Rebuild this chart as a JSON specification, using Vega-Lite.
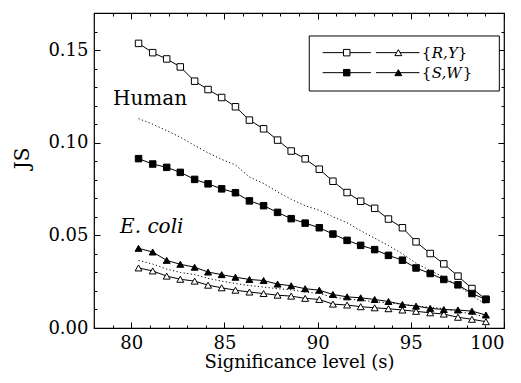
{
  "$schema": "https://vega.github.io/schema/vega-lite/v6.json",
  "width": 410,
  "height": 315,
  "autosize": "none",
  "padding": {"left": 94, "top": 13, "right": 17, "bottom": 55},
  "background": "white",
  "config": {
    "view": {"stroke": "black", "strokeWidth": 1.2},
    "font": "DejaVu Serif",
    "axis": {
      "domain": false, "grid": false,
      "labelFont": "DejaVu Serif", "labelFontSize": 18, "labelColor": "black",
      "tickColor": "black", "tickWidth": 1,
      "titleFont": "DejaVu Serif", "titleFontSize": 18, "titleFontWeight": "normal", "titleColor": "black"
    }
  },
  "datasets": {
    "curves": [
      {"s": 80.39, "hRY": 0.1536, "hSW": 0.0914, "hDot": 0.1130, "eRY": 0.0324, "eSW": 0.0430, "eDot": 0.0365},
      {"s": 81.15, "hRY": 0.1486, "hSW": 0.0885, "hDot": 0.1100, "eRY": 0.0308, "eSW": 0.0410, "eDot": 0.0345},
      {"s": 81.90, "hRY": 0.1452, "hSW": 0.0867, "hDot": 0.1065, "eRY": 0.0280, "eSW": 0.0365, "eDot": 0.0318},
      {"s": 82.63, "hRY": 0.1409, "hSW": 0.0840, "hDot": 0.1030, "eRY": 0.0263, "eSW": 0.0344, "eDot": 0.0300},
      {"s": 83.40, "hRY": 0.1332, "hSW": 0.0802, "hDot": 0.0985, "eRY": 0.0253, "eSW": 0.0328, "eDot": 0.0288},
      {"s": 84.12, "hRY": 0.1287, "hSW": 0.0778, "hDot": 0.0945, "eRY": 0.0231, "eSW": 0.0302, "eDot": 0.0268},
      {"s": 84.85, "hRY": 0.1244, "hSW": 0.0751, "hDot": 0.0910, "eRY": 0.0217, "eSW": 0.0288, "eDot": 0.0253},
      {"s": 85.59, "hRY": 0.1194, "hSW": 0.0730, "hDot": 0.0880, "eRY": 0.0204, "eSW": 0.0274, "eDot": 0.0240},
      {"s": 86.34, "hRY": 0.1122, "hSW": 0.0686, "hDot": 0.0815, "eRY": 0.0194, "eSW": 0.0262, "eDot": 0.0229},
      {"s": 87.10, "hRY": 0.1075, "hSW": 0.0660, "hDot": 0.0780, "eRY": 0.0186, "eSW": 0.0256, "eDot": 0.0221},
      {"s": 87.85, "hRY": 0.1014, "hSW": 0.0624, "hDot": 0.0735, "eRY": 0.0177, "eSW": 0.0237, "eDot": 0.0212},
      {"s": 88.58, "hRY": 0.0955, "hSW": 0.0590, "hDot": 0.0695, "eRY": 0.0172, "eSW": 0.0228, "eDot": 0.0206},
      {"s": 89.33, "hRY": 0.0913, "hSW": 0.0566, "hDot": 0.0660, "eRY": 0.0160, "eSW": 0.0212, "eDot": 0.0194},
      {"s": 90.09, "hRY": 0.0857, "hSW": 0.0541, "hDot": 0.0635, "eRY": 0.0154, "eSW": 0.0204, "eDot": 0.0187},
      {"s": 90.82, "hRY": 0.0792, "hSW": 0.0507, "hDot": 0.0600, "eRY": 0.0129, "eSW": 0.0181, "eDot": 0.0165},
      {"s": 91.58, "hRY": 0.0731, "hSW": 0.0473, "hDot": 0.0568, "eRY": 0.0124, "eSW": 0.0168, "eDot": 0.0158},
      {"s": 92.31, "hRY": 0.0684, "hSW": 0.0446, "hDot": 0.0525, "eRY": 0.0115, "eSW": 0.0163, "eDot": 0.0149},
      {"s": 93.06, "hRY": 0.0646, "hSW": 0.0423, "hDot": 0.0485, "eRY": 0.0109, "eSW": 0.0154, "eDot": 0.0142},
      {"s": 93.80, "hRY": 0.0588, "hSW": 0.0392, "hDot": 0.0445, "eRY": 0.0104, "eSW": 0.0143, "eDot": 0.0136},
      {"s": 94.55, "hRY": 0.0541, "hSW": 0.0366, "hDot": 0.0400, "eRY": 0.0097, "eSW": 0.0127, "eDot": 0.0128},
      {"s": 95.28, "hRY": 0.0465, "hSW": 0.0324, "hDot": 0.0350, "eRY": 0.0090, "eSW": 0.0118, "eDot": 0.0120},
      {"s": 96.04, "hRY": 0.0402, "hSW": 0.0294, "hDot": 0.0310, "eRY": 0.0082, "eSW": 0.0106, "eDot": 0.0112},
      {"s": 96.77, "hRY": 0.0346, "hSW": 0.0262, "hDot": 0.0275, "eRY": 0.0075, "eSW": 0.0100, "eDot": 0.0104},
      {"s": 97.53, "hRY": 0.0280, "hSW": 0.0233, "hDot": 0.0228, "eRY": 0.0058, "eSW": 0.0097, "eDot": 0.0088},
      {"s": 98.28, "hRY": 0.0213, "hSW": 0.0186, "hDot": 0.0175, "eRY": 0.0047, "eSW": 0.0091, "eDot": 0.0076},
      {"s": 99.03, "hRY": 0.0155, "hSW": 0.0154, "hDot": 0.0127, "eRY": 0.0034, "eSW": 0.0070, "eDot": 0.0060}
    ],
    "legendRows": [
      {"key": "R,Y", "ly": 0.1486, "kind": "open"},
      {"key": "S,W", "ly": 0.1378, "kind": "filled"}
    ]
  },
  "resolve": {"axis": {"x": "independent", "y": "independent"}},
  "layer": [
    {
      "data": {"name": "curves"},
      "transform": [
        {"fold": ["hDot", "eDot"], "as": ["series", "v"]}
      ],
      "mark": {"type": "line", "color": "black", "strokeWidth": 1, "strokeDash": [1.2, 2.4]},
      "encoding": {
        "x": {"field": "s", "type": "quantitative",
              "scale": {"domain": [78, 100], "nice": false, "zero": false},
              "axis": {"orient": "bottom", "values": [80, 85, 90, 95, 100], "tickSize": -6, "labelPadding": 12,
                       "title": "Significance level (s)", "titleY": 39, "titleBaseline": "alphabetic"}},
        "y": {"field": "v", "type": "quantitative",
              "scale": {"domain": [0, 0.17], "nice": false, "zero": true},
              "axis": {"orient": "left", "values": [0, 0.05, 0.1, 0.15], "format": ".2f", "tickSize": -6, "labelPadding": 12,
                       "title": "JS", "titleFontSize": 20, "titlePadding": 15, "titleY": 145, "titleAngle": -90}},
        "detail": {"field": "series"}
      }
    },
    {
      "data": {"name": "curves"},
      "transform": [
        {"fold": ["hRY", "hSW", "eRY", "eSW"], "as": ["series", "v"]}
      ],
      "mark": {"type": "line", "color": "black", "strokeWidth": 1},
      "encoding": {
        "x": {"field": "s", "type": "quantitative",
              "axis": {"orient": "bottom", "values": [78,79,80,81,82,83,84,85,86,87,88,89,90,91,92,93,94,95,96,97,98,99,100],
                       "tickSize": -3, "labels": false, "title": null}},
        "y": {"field": "v", "type": "quantitative",
              "axis": {"orient": "left", "values": [0,0.01,0.02,0.03,0.04,0.05,0.06,0.07,0.08,0.09,0.1,0.11,0.12,0.13,0.14,0.15,0.16,0.17],
                       "tickSize": -3, "labels": false, "title": null}},
        "detail": {"field": "series"}
      }
    },
    {
      "data": {"name": "curves"},
      "mark": {"type": "point", "shape": "square", "filled": true, "fill": "white", "stroke": "black", "strokeWidth": 1, "size": 42, "opacity": 1},
      "encoding": {
        "x": {"field": "s", "type": "quantitative",
              "axis": {"orient": "top", "values": [80, 85, 90, 95, 100], "tickSize": -6, "labels": false, "title": null}},
        "y": {"field": "hRY", "type": "quantitative",
              "axis": {"orient": "right", "values": [0, 0.05, 0.1, 0.15], "tickSize": -6, "labels": false, "title": null}}
      }
    },
    {
      "data": {"name": "curves"},
      "mark": {"type": "point", "shape": "square", "filled": true, "fill": "black", "stroke": "black", "strokeWidth": 1, "size": 42, "opacity": 1},
      "encoding": {
        "x": {"field": "s", "type": "quantitative",
              "axis": {"orient": "top", "values": [78,79,80,81,82,83,84,85,86,87,88,89,90,91,92,93,94,95,96,97,98,99,100],
                       "tickSize": -3, "labels": false, "title": null}},
        "y": {"field": "hSW", "type": "quantitative",
              "axis": {"orient": "right", "values": [0,0.01,0.02,0.03,0.04,0.05,0.06,0.07,0.08,0.09,0.1,0.11,0.12,0.13,0.14,0.15,0.16,0.17],
                       "tickSize": -3, "labels": false, "title": null}}
      }
    },
    {
      "data": {"name": "curves"},
      "mark": {"type": "point", "shape": "triangle-up", "filled": true, "fill": "white", "stroke": "black", "strokeWidth": 1, "size": 48, "opacity": 1},
      "encoding": {
        "x": {"field": "s", "type": "quantitative", "axis": null},
        "y": {"field": "eRY", "type": "quantitative", "axis": null}
      }
    },
    {
      "data": {"name": "curves"},
      "mark": {"type": "point", "shape": "triangle-up", "filled": true, "fill": "black", "stroke": "black", "strokeWidth": 1, "size": 48, "opacity": 1},
      "encoding": {
        "x": {"field": "s", "type": "quantitative", "axis": null},
        "y": {"field": "eSW", "type": "quantitative", "axis": null}
      }
    },
    {
      "data": {"values": [{"box": "legend"}]},
      "mark": {"type": "rect", "fill": "white", "stroke": "black", "strokeWidth": 1},
      "encoding": {
        "x": {"datum": 89.55, "type": "quantitative", "axis": null},
        "x2": {"datum": 99.75},
        "y": {"datum": 0.1576, "type": "quantitative", "axis": null},
        "y2": {"datum": 0.1279}
      }
    },
    {
      "data": {"name": "legendRows"},
      "mark": {"type": "rule", "color": "black", "strokeWidth": 1},
      "encoding": {
        "x": {"datum": 90.27, "type": "quantitative", "axis": null},
        "x2": {"datum": 92.86},
        "y": {"field": "ly", "type": "quantitative", "axis": null}
      }
    },
    {
      "data": {"name": "legendRows"},
      "mark": {"type": "rule", "color": "black", "strokeWidth": 1},
      "encoding": {
        "x": {"datum": 93.13, "type": "quantitative", "axis": null},
        "x2": {"datum": 95.46},
        "y": {"field": "ly", "type": "quantitative", "axis": null}
      }
    },
    {
      "data": {"name": "legendRows"},
      "mark": {"type": "point", "shape": "square", "filled": true, "stroke": "black", "strokeWidth": 1, "size": 42, "opacity": 1},
      "encoding": {
        "x": {"datum": 91.56, "type": "quantitative", "axis": null},
        "y": {"field": "ly", "type": "quantitative", "axis": null},
        "fill": {"field": "kind", "type": "nominal", "scale": {"domain": ["open", "filled"], "range": ["white", "black"]}, "legend": null}
      }
    },
    {
      "data": {"name": "legendRows"},
      "mark": {"type": "point", "shape": "triangle-up", "filled": true, "stroke": "black", "strokeWidth": 1, "size": 48, "opacity": 1},
      "encoding": {
        "x": {"datum": 94.33, "type": "quantitative", "axis": null},
        "y": {"field": "ly", "type": "quantitative", "axis": null},
        "fill": {"field": "kind", "type": "nominal", "scale": {"domain": ["open", "filled"], "range": ["white", "black"]}, "legend": null}
      }
    },
    {
      "data": {"name": "legendRows"},
      "mark": {"type": "text", "align": "left", "baseline": "middle", "font": "DejaVu Serif", "fontSize": 15, "color": "black"},
      "encoding": {
        "x": {"datum": 95.59, "type": "quantitative", "axis": null},
        "y": {"field": "ly", "type": "quantitative", "axis": null},
        "text": {"value": "{"}
      }
    },
    {
      "data": {"name": "legendRows"},
      "mark": {"type": "text", "align": "left", "baseline": "middle", "font": "DejaVu Serif", "fontSize": 15, "fontStyle": "italic", "color": "black", "dx": 10},
      "encoding": {
        "x": {"datum": 95.59, "type": "quantitative", "axis": null},
        "y": {"field": "ly", "type": "quantitative", "axis": null},
        "text": {"field": "key"}
      }
    },
    {
      "data": {"name": "legendRows"},
      "transform": [{"filter": "datum.key === 'R,Y'"}],
      "mark": {"type": "text", "align": "left", "baseline": "middle", "font": "DejaVu Serif", "fontSize": 15, "color": "black", "dx": 36},
      "encoding": {
        "x": {"datum": 95.59, "type": "quantitative", "axis": null},
        "y": {"field": "ly", "type": "quantitative", "axis": null},
        "text": {"value": "}"}
      }
    },
    {
      "data": {"name": "legendRows"},
      "transform": [{"filter": "datum.key === 'S,W'"}],
      "mark": {"type": "text", "align": "left", "baseline": "middle", "font": "DejaVu Serif", "fontSize": 15, "color": "black", "dx": 41},
      "encoding": {
        "x": {"datum": 95.59, "type": "quantitative", "axis": null},
        "y": {"field": "ly", "type": "quantitative", "axis": null},
        "text": {"value": "}"}
      }
    },
    {
      "data": {"values": [{"label": "Human"}]},
      "mark": {"type": "text", "align": "left", "baseline": "alphabetic", "font": "DejaVu Serif", "fontSize": 20, "color": "black"},
      "encoding": {
        "x": {"datum": 79.02, "type": "quantitative", "axis": null},
        "y": {"datum": 0.1204, "type": "quantitative", "axis": null},
        "text": {"field": "label"}
      }
    },
    {
      "data": {"values": [{"label": "E. coli"}]},
      "mark": {"type": "text", "align": "left", "baseline": "alphabetic", "font": "DejaVu Serif", "fontSize": 20, "fontStyle": "italic", "color": "black"},
      "encoding": {
        "x": {"datum": 79.4, "type": "quantitative", "axis": null},
        "y": {"datum": 0.0513, "type": "quantitative", "axis": null},
        "text": {"field": "label"}
      }
    }
  ]
}
